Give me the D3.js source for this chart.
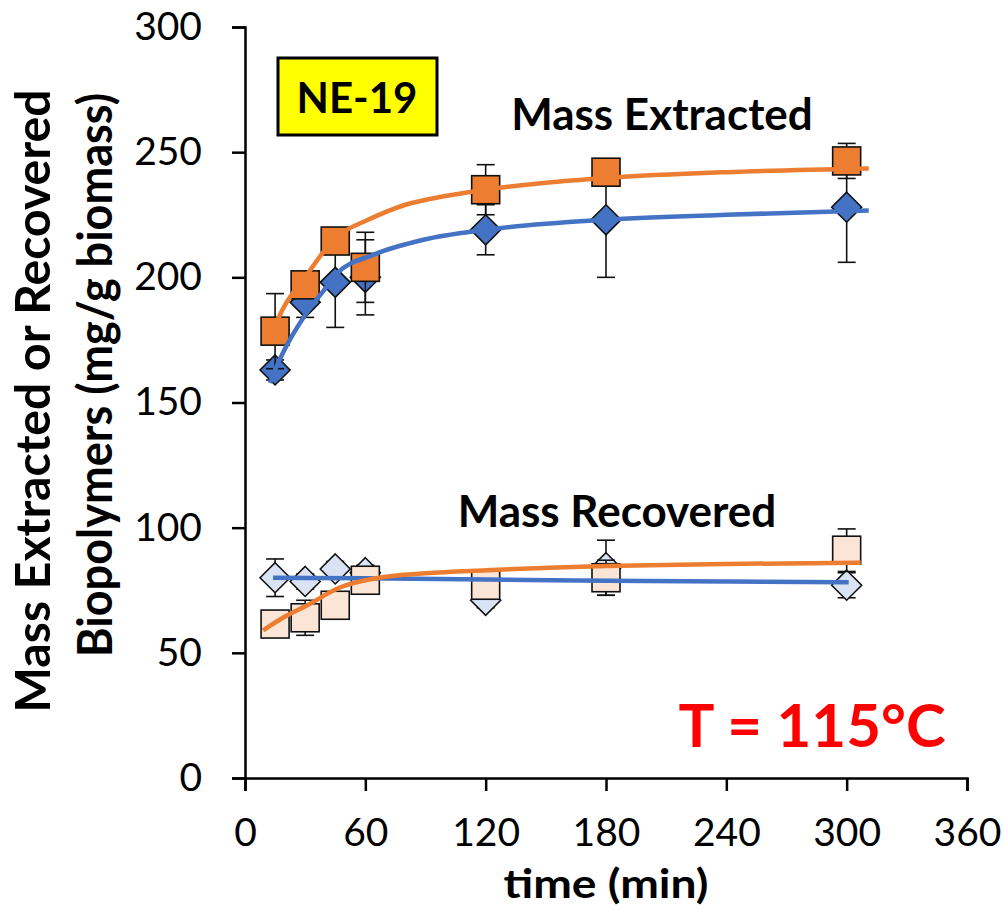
<!DOCTYPE html>
<html>
<head>
    <meta charset="utf-8" />
    <title>NE-19 mass extracted / recovered</title>
    <script src="https://d3js.org/d3.v7.min.js"></script>
    <style>
        body { margin: 0; background: white; }
        text { font-family: Lato, "Open Sans", sans-serif; }
    </style>
</head>
<body>
<div id="chart"></div>
<script>

    // measured points
    let time = [15, 30, 45, 60, 120, 180, 300];

    let extBlue = [163, 190, 198, 200, 219, 223, 228];
    let extBlueErr = [4, 6, 18, 15, 10, 23, 22];
    let extOrange = [178.5, 197, 214.5, 204, 235, 242, 246.5];
    let extOrangeErr = [15, 5, 5, 14, 10, 4, 7];

    let recBlue = [80, 78.5, 83.5, 82, 71, 84, 77];
    let recBlueErr = [7.5, 3, 3, 3, 3, 11, 5];
    let recOrange = [61.5, 64, 69, 79, 77, 80, 91];
    let recOrangeErr = [3, 7, 4, 3, 4, 7, 8.5];

    // fitted curves
    let extBlueFitT = [12.5, 15, 19, 30, 40, 46, 64, 89, 120, 180, 240, 311];
    let extBlueFit = [157.8, 163, 170, 185, 195.5, 201.7, 209, 215, 219, 223, 225, 226.7];
    let extOrangeFitT = [12, 15, 20, 30, 40, 50, 60, 80, 100, 120, 150, 180, 240, 311];
    let extOrangeFit = [176, 181, 189, 200, 211, 218.5, 222.5, 229, 232.5, 235, 237.8, 239.7, 242, 243.5];

    let recBlueFitT = [14, 60, 120, 180, 240, 301];
    let recBlueFit = [80, 79.8, 79.3, 78.8, 78.5, 78.2];
    let recOrangeFitT = [9, 20, 31, 47, 67, 90, 120, 180, 240, 307];
    let recOrangeFit = [59, 64.5, 69, 76, 80, 81.8, 83, 84.7, 85.5, 86];

    let xTicks = [0, 60, 120, 180, 240, 300, 360];
    let yTicks = [0, 50, 100, 150, 200, 250, 300];

    const blue = "#4472c4", orange = "#ed7d31",
        lightBlue = "#dae3f3", lightOrange = "#fbe5d6";

    let svg = d3.select("#chart").append("svg")
        .attr("width", 1003)
        .attr("height", 909);

    let x = d3.scaleLinear().domain([0, 360]).range([245, 967]);
    let y = d3.scaleLinear().domain([0, 300]).range([778, 27]);

    // axes
    let xAxis = d3.axisBottom(x).tickValues(xTicks).tickSize(13).tickPadding(27);
    let yAxis = d3.axisLeft(y).tickValues(yTicks).tickSize(13).tickPadding(30);

    let gx = svg.append("g").attr("transform", "translate(0,778)").call(xAxis);
    let gy = svg.append("g").attr("transform", "translate(245,0)").call(yAxis);

    [gx, gy].forEach(function (g) {
        g.selectAll("path, line").attr("stroke", "#000").attr("stroke-width", 2.5);
        g.selectAll("text")
            .attr("fill", "#000")
            .style("font-size", "39px")
            .style("font-family", "Lato, sans-serif");
    });

    // one series: error bars then markers
    function drawSeries(vals, errs, shape, fill) {
        let g = svg.append("g");
        let cap = 9;
        time.forEach(function (t, i) {
            let cx = x(t), hi = y(vals[i] + errs[i]), lo = y(vals[i] - errs[i]);
            g.append("line").attr("x1", cx).attr("x2", cx).attr("y1", hi).attr("y2", lo);
            g.append("line").attr("x1", cx - cap).attr("x2", cx + cap).attr("y1", hi).attr("y2", hi);
            g.append("line").attr("x1", cx - cap).attr("x2", cx + cap).attr("y1", lo).attr("y2", lo);
        });
        g.selectAll("line").attr("stroke", "#111").attr("stroke-width", 1.6);

        time.forEach(function (t, i) {
            let cx = x(t), cy = y(vals[i]);
            if (shape === "square") {
                g.append("rect")
                    .attr("x", cx - 14).attr("y", cy - 14)
                    .attr("width", 28).attr("height", 28)
                    .attr("fill", fill).attr("stroke", "#111").attr("stroke-width", 1.6);
            } else {
                let r = 15;
                g.append("path")
                    .attr("d", "M" + cx + "," + (cy - r) + "L" + (cx + r) + "," + cy +
                        "L" + cx + "," + (cy + r) + "L" + (cx - r) + "," + cy + "Z")
                    .attr("fill", fill).attr("stroke", "#111").attr("stroke-width", 1.6);
            }
        });
    }

    drawSeries(recBlue, recBlueErr, "diamond", lightBlue);
    drawSeries(recOrange, recOrangeErr, "square", lightOrange);
    drawSeries(extBlue, extBlueErr, "diamond", blue);
    drawSeries(extOrange, extOrangeErr, "square", orange);

    // fitted curves on top
    let line = d3.line()
        .x(function (d) { return x(d[0]); })
        .y(function (d) { return y(d[1]); })
        .curve(d3.curveMonotoneX);

    function drawFit(ts, vs, color) {
        svg.append("path")
            .datum(d3.zip(ts, vs))
            .attr("d", line)
            .attr("fill", "none")
            .attr("stroke", color)
            .attr("stroke-width", 4.5)
            .attr("stroke-linecap", "butt");
    }

    drawFit(recBlueFitT, recBlueFit, blue);
    drawFit(recOrangeFitT, recOrangeFit, orange);
    drawFit(extBlueFitT, extBlueFit, blue);
    drawFit(extOrangeFitT, extOrangeFit, orange);

    // labels
    svg.append("text")
        .attr("x", 606).attr("y", 898)
        .attr("text-anchor", "middle")
        .attr("textLength", 205).attr("lengthAdjust", "spacingAndGlyphs")
        .style("font-size", "41px").style("font-weight", "bold")
        .text("time (min)");

    let yTitle = svg.append("g");
    yTitle.append("text")
        .attr("transform", "translate(50,401) rotate(-90)")
        .attr("text-anchor", "middle")
        .attr("textLength", 623).attr("lengthAdjust", "spacingAndGlyphs")
        .style("font-size", "48px").style("font-weight", "bold")
        .text("Mass Extracted or Recovered");
    yTitle.append("text")
        .attr("transform", "translate(112,375) rotate(-90)")
        .attr("text-anchor", "middle")
        .attr("textLength", 564).attr("lengthAdjust", "spacingAndGlyphs")
        .style("font-size", "48px").style("font-weight", "bold")
        .text("Biopolymers (mg/g biomass)");

    svg.append("text")
        .attr("x", 662).attr("y", 130)
        .attr("text-anchor", "middle")
        .style("font-size", "44px").style("font-weight", "bold")
        .text("Mass Extracted");

    svg.append("text")
        .attr("x", 617).attr("y", 527)
        .attr("text-anchor", "middle")
        .style("font-size", "44px").style("font-weight", "bold")
        .text("Mass Recovered");

    svg.append("rect")
        .attr("x", 278).attr("y", 58)
        .attr("width", 159).attr("height", 77)
        .attr("fill", "#ffff00")
        .attr("stroke", "#000").attr("stroke-width", 3);
    svg.append("text")
        .attr("x", 357).attr("y", 113)
        .attr("text-anchor", "middle")
        .style("font-size", "42px").style("font-weight", "bold")
        .text("NE-19");

    svg.append("text")
        .attr("x", 812).attr("y", 747)
        .attr("text-anchor", "middle")
        .attr("fill", "#ff0000")
        .style("font-size", "60px").style("font-weight", "bold")
        .text("T = 115°C");

</script>
</body>
</html>
